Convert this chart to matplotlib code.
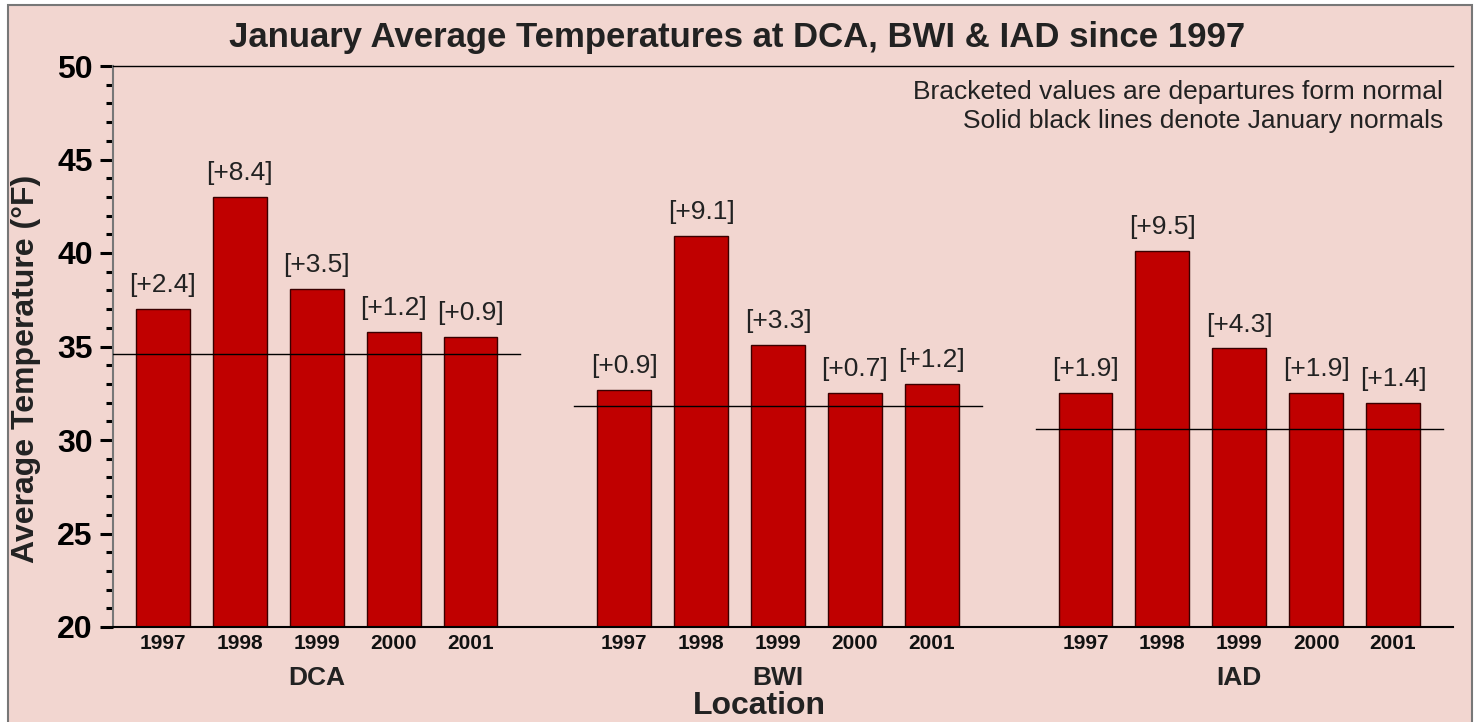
import matplotlib.pyplot as plt
from matplotlib.patches import Rectangle
from matplotlib.ticker import MultipleLocator

# data
locations = ['DCA', 'BWI', 'IAD']
years = ['1997', '1998', '1999', '2000', '2001']
dca_temps = [37.0, 43.0, 38.1, 35.8, 35.5]
bwi_temps = [32.7, 40.9, 35.1, 32.5, 33.0]
iad_temps = [32.5, 40.1, 34.9, 32.5, 32.0]
dca_depart = ['+2.4', '+8.4', '+3.5', '+1.2', '+0.9']
bwi_depart = ['+0.9', '+9.1', '+3.3', '+0.7', '+1.2']
iad_depart = ['+1.9', '+9.5', '+4.3', '+1.9', '+1.4']
normals = [34.6, 31.8, 30.6]
notes = ['Bracketed values are departures form normal',
         'Solid black lines denote January normals']

plt.rcParams['font.family'] = ['Liberation Sans', 'DejaVu Sans']
bg = '#F2D6D0'
bar_col = '#C00000'
W, H = 1477, 722

fig = plt.figure(figsize=(14.77, 7.22), dpi=100, facecolor='white')
fig.patches.append(Rectangle((8 / W, -0.01), 1464 / W, 1 - 5 / H + 0.01,
                             transform=fig.transFigure, facecolor=bg,
                             edgecolor='#777777', linewidth=1.5, zorder=-10))
ax = fig.add_axes([113 / W, 1 - 627 / H, 1340 / W, 561 / H])
ax.set_facecolor(bg)

temps = [dca_temps, bwi_temps, iad_temps]
departs = [dca_depart, bwi_depart, iad_depart]
xticks = []
xlabels = []
for g in range(3):
    xs = [g * 6 + i for i in range(5)]
    ax.bar(xs, temps[g], width=0.7, color=bar_col, edgecolor='#3a0000',
           linewidth=1.0, zorder=2)
    ax.plot([xs[0] - 0.65, xs[-1] + 0.65], [normals[g], normals[g]],
            color='black', linewidth=1.0, zorder=3)
    for x, t, d in zip(xs, temps[g], departs[g]):
        ax.text(x, t + 0.9, '[' + d + ']', ha='center', va='baseline',
                fontsize=19, color='#222222')
    xticks += xs
    xlabels += years

# group labels under the year ticks
for g in range(3):
    fig.text((113 + (g * 6 + 2 + 0.65) * 1340 / 17.43) / W, 1 - 678 / H, locations[g],
             ha='center', va='center', fontsize=19, fontweight='bold', color='#222222')

ax.set_xlim(-0.65, 16.78)
ax.set_ylim(20, 50)
ax.set_xticks(xticks)
ax.set_xticklabels(xlabels, fontsize=15, fontweight='bold', color='#111111')
ax.tick_params(axis='x', length=0, pad=5)
ax.yaxis.set_major_locator(MultipleLocator(5))
ax.yaxis.set_minor_locator(MultipleLocator(1))
ax.tick_params(axis='y', which='major', length=9.5, width=2.2, labelsize=23, pad=5)
ax.tick_params(axis='y', which='minor', length=5, width=2.2)
for lab in ax.get_yticklabels():
    lab.set_fontweight('bold')

ax.spines['right'].set_visible(False)
ax.spines['left'].set_color('#777777')
ax.spines['left'].set_linewidth(1.5)
ax.spines['top'].set_linewidth(1.0)
ax.spines['bottom'].set_linewidth(1.5)

fig.text(26 / W, 1 - 369 / H, 'Average Temperature (\u00b0F)', rotation=90,
         ha='center', va='center', fontsize=23, fontweight='bold', color='#222222')
fig.text(759 / W, 1 - 706 / H, 'Location', ha='center', va='center',
         fontsize=23, fontweight='bold', color='#222222')
fig.text(737 / W, 1 - 38 / H, 'January Average Temperatures at DCA, BWI & IAD since 1997',
         ha='center', va='center', fontsize=25, fontweight='bold', color='#222222')
for i, note in enumerate(notes):
    fig.text(1443 / W, 1 - (92 + 29 * i) / H, note, ha='right', va='center',
             fontsize=19, color='#222222')

fig.savefig('out.png', dpi=100, facecolor='white')
